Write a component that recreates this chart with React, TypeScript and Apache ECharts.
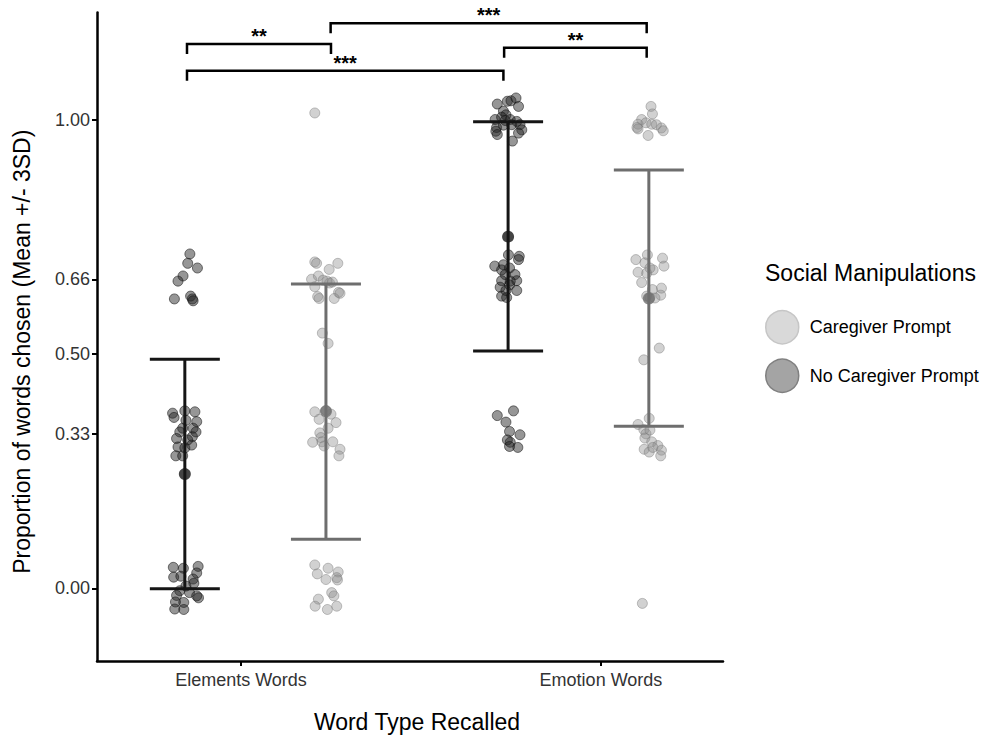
import React, { useEffect, useRef } from "react";
import * as echarts from "echarts";

const FONT = '"Liberation Sans", Arial, Helvetica, sans-serif';

const categories = ["Elements Words", "Emotion Words"];
const categoryPos = [1, 2];
const yTicks = [0, 0.33, 0.5, 0.66, 1.0];
const conditions = ["Caregiver Prompt", "No Caregiver Prompt"];

// centre of each dodged group on the x axis (Elements, Emotion)
const noCareCenter = [0.844, 1.742];
const careCenter = [1.236, 2.133];

// mean and mean +/- 3SD
const noCareMean = [0.244, 0.751];
const noCareLower = [-0.001, 0.507];
const noCareUpper = [0.489, 0.996];
const careMean = [0.378, 0.619];
const careLower = [0.105, 0.346];
const careUpper = [0.65, 0.893];

// individual points: [horizontal jitter, proportion]
const noCareElements = [
  [0.014, 0.714], [0.008, 0.694], [0.035, 0.684], [-0.005, 0.667], [-0.019, 0.656], [-0.029, 0.618], [0.016, 0.624], [0.021, 0.618], [0.023, 0.614],
  [-0.034, 0.374], [-0.03, 0.365], [0.0, 0.379], [0.028, 0.377], [0.033, 0.356], [0.023, 0.342], [-0.006, 0.342], [-0.014, 0.334], [0.021, 0.324], [0.019, 0.306], [-0.023, 0.32], [-0.019, 0.302], [-0.025, 0.283], [-0.006, 0.283], [0.003, 0.359], [0.008, 0.317], [0.031, 0.334], [0.0, 0.3],
  [-0.032, 0.045], [-0.004, 0.043], [0.037, 0.047], [0.033, 0.033], [-0.031, 0.024], [-0.011, 0.026], [0.023, 0.02], [0.025, 0.011], [-0.014, -0.005], [0.013, -0.009], [-0.023, -0.015], [0.033, -0.016], [0.038, -0.02], [-0.026, -0.029], [-0.003, -0.03], [-0.028, -0.044], [-0.003, -0.045], [0.003, 0.005],
];
const careElements = [
  [-0.031, 0.697], [-0.026, 0.694], [0.009, 0.681], [0.033, 0.694], [-0.04, 0.66], [-0.021, 0.667], [-0.008, 0.658], [0.01, 0.652], [0.018, 0.654], [-0.031, 0.644], [0.035, 0.632], [0.039, 0.63], [-0.023, 0.623], [-0.019, 0.619], [0.023, 0.619], [0.003, 0.656],
  [-0.01, 0.545], [0.006, 0.523],
  [-0.031, 0.377], [-0.019, 0.361], [0.014, 0.372], [0.028, 0.354], [0.006, 0.342], [-0.017, 0.332], [-0.014, 0.322], [-0.037, 0.312], [-0.011, 0.313], [-0.005, 0.304], [0.019, 0.313], [0.039, 0.297], [0.036, 0.283], [0.0, 0.38],
  [-0.031, 0.05], [0.006, 0.043], [0.034, 0.035], [-0.024, 0.031], [0.0, 0.019], [0.03, 0.023], [0.032, 0.018], [0.016, -0.009], [0.022, -0.016], [-0.021, -0.023], [0.03, -0.038], [-0.03, -0.038], [0.004, -0.045],
  [-0.031, 1.015],
];
const noCareEmotion = [
  [-0.03, 1.034], [-0.002, 1.04], [0.008, 1.041], [0.022, 1.047], [0.029, 1.029], [-0.013, 1.019], [-0.006, 1.011], [-0.036, 1.001], [-0.018, 1.006], [0.006, 1.001], [0.024, 0.997], [-0.032, 0.984], [-0.013, 0.989], [0.01, 0.99], [0.033, 0.99], [0.038, 0.979], [-0.034, 0.976], [-0.03, 0.969], [0.029, 0.972], [0.012, 0.955], [-0.008, 0.999],
  [0.001, 0.712], [0.031, 0.709], [0.029, 0.702], [-0.037, 0.688], [-0.013, 0.691], [-0.018, 0.68], [0.004, 0.684], [-0.008, 0.67], [0.019, 0.67], [0.024, 0.657], [-0.018, 0.657], [0.004, 0.648], [-0.022, 0.643], [0.024, 0.636], [-0.018, 0.624], [-0.004, 0.621], [0.006, 0.656], [-0.006, 0.636],
  [-0.03, 0.369], [0.015, 0.379], [-0.006, 0.355], [0.004, 0.335], [0.033, 0.328], [-0.002, 0.317], [0.006, 0.312], [0.027, 0.301], [0.004, 0.303],
];
const careEmotion = [
  [0.006, 1.029], [0.01, 1.013], [-0.02, 1.001], [-0.03, 0.991], [-0.008, 0.994], [0.008, 0.991], [0.021, 0.99], [-0.033, 0.984], [0.035, 0.983], [0.04, 0.977], [-0.002, 0.967], [-0.03, 0.981],
  [-0.036, 0.702], [-0.004, 0.712], [0.038, 0.705], [-0.011, 0.695], [0.012, 0.68], [0.042, 0.688], [-0.03, 0.675], [-0.006, 0.673], [0.003, 0.684], [-0.02, 0.653], [0.035, 0.641], [0.01, 0.638], [0.033, 0.626], [-0.006, 0.624], [0.017, 0.62], [0.003, 0.621],
  [0.029, 0.513], [-0.014, 0.488],
  [0.001, 0.363], [-0.03, 0.35], [-0.014, 0.339], [-0.008, 0.33], [0.003, 0.338], [-0.011, 0.321], [0.008, 0.313], [0.025, 0.305], [0.035, 0.295], [-0.013, 0.297], [0.001, 0.291], [0.033, 0.283], [0.011, 0.301],
  [-0.018, -0.032],
];

// significance brackets
const bracketX1 = [0.85, 0.85, 1.249, 1.731];
const bracketX2 = [1.25, 1.729, 2.127, 2.127];
const bracketY = [1.162, 1.105, 1.2065, 1.1544];
const bracketLabels = ["**", "***", "***", "**"];

const toXY = (pts: number[][], c: number) => pts.map((p) => [c + p[0], p[1]]);

export default function App() {
  const ref = useRef<HTMLDivElement>(null);
  useEffect(() => {
    if (!ref.current) return;
    const chart = echarts.init(ref.current, null, { renderer: "svg" });

    const errorRender = (color: string) => (params: any, api: any) => {
      const x = api.value(0);
      const lo = api.value(1);
      const hi = api.value(2);
      const t = api.coord([x, hi]);
      const b = api.coord([x, lo]);
      const hw = 35;
      const style = { stroke: color, lineWidth: 3 };
      return {
        type: "group",
        children: [
          { type: "line", shape: { x1: t[0], y1: t[1], x2: b[0], y2: b[1] }, style },
          { type: "line", shape: { x1: t[0] - hw, y1: t[1], x2: t[0] + hw, y2: t[1] }, style },
          { type: "line", shape: { x1: b[0] - hw, y1: b[1], x2: b[0] + hw, y2: b[1] }, style },
        ],
      };
    };

    const noCareStyle = { color: "rgba(35,35,35,0.6)", borderColor: "rgba(20,20,20,0.7)", borderWidth: 1 };
    const careStyle = { color: "rgba(140,140,140,0.5)", borderColor: "rgba(115,115,115,0.55)", borderWidth: 1 };

    const option: any = {
      animation: false,
      textStyle: { fontFamily: FONT },
      grid: { left: 97, right: 273, top: 12.5, bottom: 77 },
      xAxis: {
        type: "value",
        min: 0.6,
        max: 2.339,
        splitLine: { show: false },
        axisLine: { show: true, onZero: false, lineStyle: { color: "#000", width: 2.5 } },
        axisTick: { show: true, customValues: categoryPos, length: 5, lineStyle: { color: "#000", width: 2 } },
        axisLabel: {
          customValues: categoryPos,
          formatter: (v: number) => categories[categoryPos.indexOf(Math.round(v))] || "",
          fontSize: 18,
          color: "#333",
          margin: 10,
          fontFamily: FONT,
        },
        name: "Word Type Recalled",
        nameLocation: "middle",
        nameGap: 49,
        nameTextStyle: { fontSize: 23, color: "#000", fontFamily: FONT, padding: [0, 0, 0, 14] },
      },
      yAxis: {
        type: "value",
        min: -0.155,
        max: 1.2295,
        splitLine: { show: false },
        axisLine: { show: true, onZero: false, lineStyle: { color: "#000", width: 2.5 } },
        axisTick: { show: true, customValues: yTicks, length: 5, lineStyle: { color: "#000", width: 2 } },
        axisLabel: {
          customValues: yTicks,
          formatter: (v: number) => v.toFixed(2),
          fontSize: 18,
          color: "#333",
          margin: 7,
          fontFamily: FONT,
        },
        name: "Proportion of words chosen (Mean +/- 3SD)",
        nameLocation: "middle",
        nameGap: 64,
        nameTextStyle: { fontSize: 23, color: "#000", fontFamily: FONT, padding: [0, 30, 0, 0] },
      },
      legend: {
        orient: "vertical",
        left: 760,
        top: 305,
        itemWidth: 33,
        itemHeight: 33,
        itemGap: 14,
        icon: "circle",
        textStyle: { fontSize: 18, color: "#000", fontFamily: FONT, padding: [0, 0, 0, 6] },
        data: [
          { name: conditions[0], itemStyle: { color: "#d9d9d9", borderColor: "#c6c6c6", borderWidth: 1.5, opacity: 1 } },
          { name: conditions[1], itemStyle: { color: "#a4a4a4", borderColor: "#808080", borderWidth: 1.5, opacity: 1 } },
        ],
      },
      graphic: [
        {
          type: "text",
          left: 765,
          top: 261,
          style: { text: "Social Manipulations", fontSize: 23, fill: "#000", fontFamily: FONT },
        },
      ],
      series: [
        {
          name: conditions[1],
          type: "scatter",
          symbolSize: 10,
          itemStyle: noCareStyle,
          z: 2,
          data: [...toXY(noCareElements, noCareCenter[0]), ...toXY(noCareEmotion, noCareCenter[1])],
        },
        {
          name: conditions[0],
          type: "scatter",
          symbolSize: 10,
          itemStyle: careStyle,
          z: 2,
          data: [...toXY(careElements, careCenter[0]), ...toXY(careEmotion, careCenter[1])],
        },
        {
          name: "No Caregiver SD",
          type: "custom",
          z: 3,
          renderItem: errorRender("#151515"),
          encode: { x: 0, y: [1, 2] },
          data: noCareCenter.map((c, i) => [c, noCareLower[i], noCareUpper[i]]),
        },
        {
          name: "Caregiver SD",
          type: "custom",
          z: 3,
          renderItem: errorRender("#6e6e6e"),
          encode: { x: 0, y: [1, 2] },
          data: careCenter.map((c, i) => [c, careLower[i], careUpper[i]]),
        },
        {
          name: "No Caregiver Mean",
          type: "scatter",
          symbolSize: 12,
          z: 4,
          itemStyle: { color: "#151515" },
          data: noCareCenter.map((c, i) => [c, noCareMean[i]]),
        },
        {
          name: "Caregiver Mean",
          type: "scatter",
          symbolSize: 12,
          z: 4,
          itemStyle: { color: "#6e6e6e" },
          data: careCenter.map((c, i) => [c, careMean[i]]),
        },
        {
          name: "Significance",
          type: "custom",
          z: 5,
          encode: { x: [0, 1], y: 2 },
          data: bracketX1.map((x, i) => [x, bracketX2[i], bracketY[i]]),
          renderItem: (params: any, api: any) => {
            const a = api.coord([api.value(0), api.value(2)]);
            const b = api.coord([api.value(1), api.value(2)]);
            const leg = 10;
            return {
              type: "group",
              children: [
                {
                  type: "polyline",
                  shape: { points: [[a[0], a[1] + leg], [a[0], a[1]], [b[0], b[1]], [b[0], b[1] + leg]] },
                  style: { stroke: "#000", lineWidth: 2.5, fill: null },
                },
                {
                  type: "text",
                  x: (a[0] + b[0]) / 2,
                  y: a[1] - 8,
                  style: {
                    text: bracketLabels[params.dataIndex],
                    fill: "#000",
                    fontSize: 20,
                    fontWeight: "bold",
                    fontFamily: FONT,
                    align: "center",
                    verticalAlign: "middle",
                  },
                },
              ],
            };
          },
        },
      ],
    };
    chart.setOption(option);
    return () => chart.dispose();
  }, []);
  return <div ref={ref} style={{ position: "fixed", left: 0, top: 0, width: 996, height: 738, background: "#fff" }} />;
}
